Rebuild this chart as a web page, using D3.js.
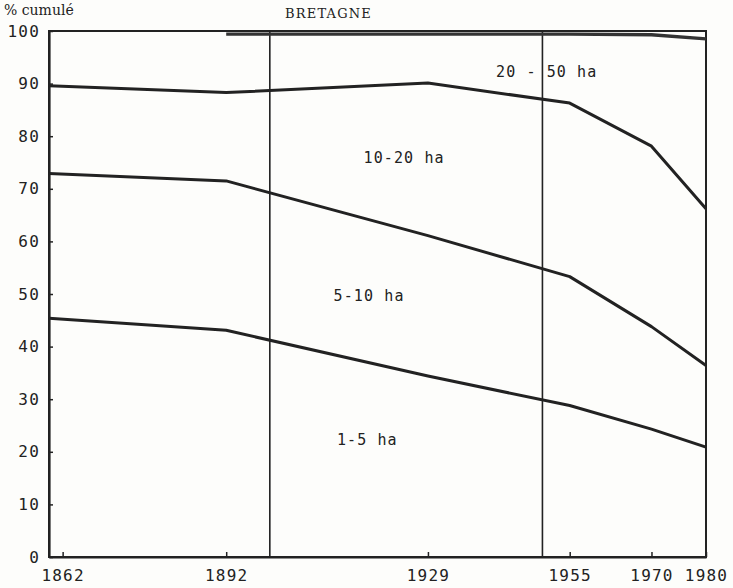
<!DOCTYPE html>
<html>
<head>
<meta charset="utf-8">
<script src="https://cdn.jsdelivr.net/npm/d3@7"></script>
<style>
  body { margin: 0; background: #fdfdfb; }
  svg { display: block; }
  .tk text { font-family: "DejaVu Sans Mono", monospace; font-size: 16px; letter-spacing: 1.2px; fill: #222; }
</style>
</head>
<body>
<svg id="chart" width="733" height="588"></svg>
<script>
// years where the curves are read (first point sits on the left axis)
var years = [1859.5, 1892, 1929, 1955, 1970, 1980];
var yearTicks = [1862, 1892, 1929, 1955, 1970, 1980];
var pctTicks = [0, 10, 20, 30, 40, 50, 60, 70, 80, 90, 100];
var markYears = [1900, 1950];

// cumulated share (%) per size class
var cum1to5 = [45.4, 43.1, 34.4, 28.8, 24.3, 20.9];
var cum5to10 = [72.9, 71.5, 61.1, 53.3, 43.8, 36.4];
var cum10to20 = [89.6, 88.3, 90.1, 86.3, 78.1, 66.2];
var years20to50 = [1892, 1929, 1955, 1970, 1980];
var cum20to50 = [99.4, 99.4, 99.4, 99.3, 98.5];

var classLabels = ["1-5 ha", "5-10 ha", "10-20 ha", "20 - 50 ha"];
var labelYears = [1912.3, 1911.7, 1917.2, 1941.5];
var labelPcts = [22.2, 49.6, 75.9, 92.2];

var svg = d3.select("#chart");
var x = d3.scaleLinear().domain([1859.5, 1980]).range([49, 706]);
var y = d3.scaleLinear().domain([0, 100]).range([557, 31]);
var ink = "#222";

// frame
svg.append("rect")
    .attr("x", x(1859.5)).attr("y", y(100))
    .attr("width", x(1980) - x(1859.5))
    .attr("height", y(0) - y(100))
    .attr("fill", "none").attr("stroke", ink).attr("stroke-width", 2);

// period marks
svg.selectAll(".mark").data(markYears).enter().append("line")
    .attr("class", "mark")
    .attr("x1", function (d) { return x(d); })
    .attr("x2", function (d) { return x(d); })
    .attr("y1", y(100)).attr("y2", y(0))
    .attr("stroke", ink).attr("stroke-width", 1.6);

// axes
svg.append("g").attr("class", "tk")
    .attr("transform", "translate(" + x(1859.5) + ",0)")
    .call(d3.axisLeft(y).tickValues(pctTicks).tickSizeInner(-4).tickSizeOuter(0).tickPadding(9));
svg.append("g").attr("class", "tk")
    .attr("transform", "translate(0," + y(0) + ")")
    .call(d3.axisBottom(x).tickValues(yearTicks).tickFormat(d3.format("d")).tickSizeInner(-5).tickSizeOuter(0).tickPadding(13));
svg.selectAll(".tk .domain").attr("stroke", ink).attr("stroke-width", 2.2);
svg.selectAll(".tk .tick line").attr("stroke", ink).attr("stroke-width", 1.5);

// curves
var line = d3.line()
    .x(function (d) { return x(d[0]); })
    .y(function (d) { return y(d[1]); });

[cum1to5, cum5to10, cum10to20].forEach(function (vals) {
    svg.append("path")
        .datum(d3.zip(years, vals))
        .attr("d", line)
        .attr("fill", "none").attr("stroke", ink)
        .attr("stroke-width", 3).attr("stroke-linejoin", "round");
});
svg.append("path")
    .datum(d3.zip(years20to50, cum20to50))
    .attr("d", line)
    .attr("fill", "none").attr("stroke", "#333")
    .attr("stroke-width", 3.4);

// class labels
svg.selectAll(".cls").data(classLabels).enter().append("text")
    .attr("class", "cls")
    .attr("x", function (d, i) { return x(labelYears[i]); })
    .attr("y", function (d, i) { return y(labelPcts[i]); })
    .attr("dy", "0.35em")
    .attr("font-family", "DejaVu Sans Mono, monospace")
    .attr("font-size", 15).attr("letter-spacing", 1.1)
    .attr("fill", ink)
    .text(function (d) { return d; });

// titles
svg.append("text").attr("x", 4).attr("y", 15)
    .attr("font-family", "DejaVu Serif, serif").attr("font-size", 14)
    .attr("fill", ink).text("% cumulé");
svg.append("text").attr("x", 285).attr("y", 18)
    .attr("font-family", "DejaVu Serif, serif").attr("font-size", 13)
    .attr("letter-spacing", 1.2).attr("fill", ink).text("BRETAGNE");
</script>
</body>
</html>
